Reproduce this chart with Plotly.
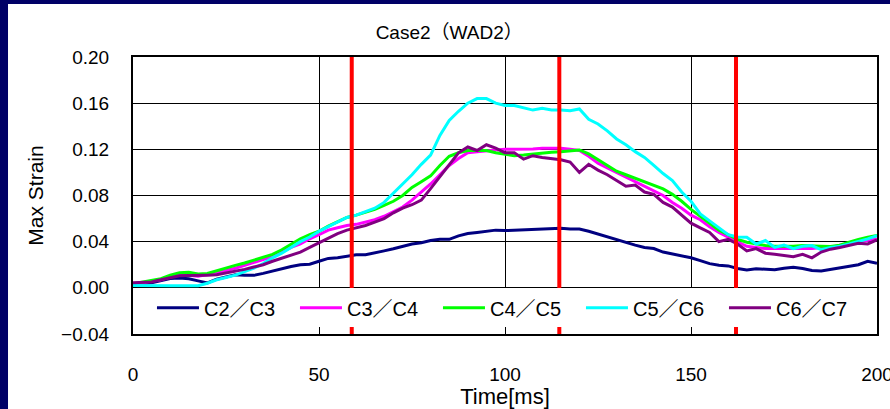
import plotly.graph_objects as go

time_ms = [0, 2.5, 5, 7.5, 10, 12.5, 15, 17.5, 20, 22.5, 25, 27.5, 30, 32.5, 35, 37.5,
           40, 42.5, 45, 47.5, 50, 52.5, 55, 57.5, 60, 62.5, 65, 67.5, 70, 72.5, 75, 77.5,
           80, 82.5, 85, 87.5, 90, 92.5, 95, 97.5, 100, 102.5, 105, 107.5, 110, 112.5,
           115, 117.5, 120, 122.5, 125, 127.5, 130, 132.5, 135, 137.5, 140, 142.5, 145,
           147.5, 150, 152.5, 155, 157.5, 160, 162.5, 165, 167.5, 170, 172.5, 175, 177.5,
           180, 182.5, 185, 187.5, 190, 192.5, 195, 197.5, 200]

c2_c3 = [0.0035, 0.0035, 0.0043, 0.006, 0.008, 0.0085, 0.0078, 0.006, 0.0043, 0.0075, 0.0095,
         0.0113, 0.011, 0.0108, 0.0125, 0.0145, 0.0168, 0.0185, 0.020, 0.0205, 0.023, 0.0255,
         0.026, 0.0275, 0.0286, 0.0286, 0.030, 0.032, 0.0338, 0.036, 0.038, 0.039, 0.041,
         0.042, 0.042, 0.045, 0.047, 0.048, 0.049, 0.050, 0.0496, 0.050, 0.050, 0.0505, 0.051,
         0.0515, 0.0516, 0.051, 0.051, 0.049, 0.0465, 0.044, 0.042, 0.039, 0.037, 0.035, 0.034,
         0.031, 0.0295, 0.028, 0.026, 0.0236, 0.021, 0.0195, 0.019, 0.0168, 0.0155, 0.0165,
         0.016, 0.0156, 0.017, 0.0178, 0.0168, 0.015, 0.0145, 0.016, 0.017, 0.0184, 0.020,
         0.023, 0.0213]
c3_c4 = [0.0035, 0.004, 0.006, 0.007, 0.0095, 0.011, 0.011, 0.010, 0.0115, 0.013, 0.015,
         0.017, 0.0195, 0.0215, 0.024, 0.027, 0.031, 0.035, 0.038, 0.0425, 0.046, 0.050,
         0.052, 0.054, 0.055, 0.0568, 0.059, 0.062, 0.066, 0.070, 0.076, 0.083, 0.090, 0.098,
         0.106, 0.112, 0.117, 0.118, 0.119, 0.1195, 0.120, 0.120, 0.120, 0.1203, 0.121, 0.121,
         0.121, 0.120, 0.119, 0.114, 0.108, 0.104, 0.100, 0.096, 0.092, 0.088, 0.084, 0.080,
         0.074, 0.069, 0.063, 0.059, 0.053, 0.048, 0.0438, 0.040, 0.036, 0.035, 0.034, 0.034,
         0.034, 0.034, 0.034, 0.034, 0.035, 0.035, 0.037, 0.038, 0.040, 0.041, 0.0424]
c4_c5 = [0.0035, 0.005, 0.0063, 0.008, 0.011, 0.013, 0.0135, 0.012, 0.0125, 0.015, 0.017,
         0.0195, 0.0215, 0.024, 0.026, 0.029, 0.033, 0.038, 0.0425, 0.046, 0.049, 0.0535,
         0.057, 0.061, 0.063, 0.0655, 0.068, 0.0715, 0.075, 0.080, 0.087, 0.092, 0.097, 0.106,
         0.114, 0.117, 0.119, 0.119, 0.119, 0.117, 0.116, 0.1145, 0.115, 0.116, 0.117, 0.1175,
         0.118, 0.119, 0.1195, 0.116, 0.111, 0.106, 0.101, 0.098, 0.095, 0.092, 0.089, 0.0857,
         0.081, 0.075, 0.068, 0.062, 0.056, 0.050, 0.046, 0.042, 0.0395, 0.038, 0.0366, 0.036,
         0.0358, 0.036, 0.0366, 0.0366, 0.036, 0.0358, 0.037, 0.0395, 0.042, 0.0438, 0.0453]
c5_c6 = [0.002, 0.0018, 0.0018, 0.0018, 0.0018, 0.0018, 0.0018, 0.0018, 0.004, 0.007, 0.009,
         0.011, 0.014, 0.017, 0.021, 0.026, 0.030, 0.035, 0.040, 0.044, 0.049, 0.053, 0.057,
         0.061, 0.063, 0.066, 0.069, 0.074, 0.082, 0.090, 0.098, 0.107, 0.115, 0.132, 0.145,
         0.153, 0.160, 0.164, 0.164, 0.160, 0.158, 0.158, 0.156, 0.154, 0.1555, 0.154, 0.154,
         0.1535, 0.155, 0.146, 0.142, 0.136, 0.129, 0.124, 0.118, 0.113, 0.106, 0.099, 0.093,
         0.083, 0.075, 0.064, 0.058, 0.052, 0.046, 0.044, 0.0438, 0.038, 0.041, 0.035, 0.037,
         0.034, 0.036, 0.0366, 0.033, 0.035, 0.036, 0.038, 0.040, 0.0424, 0.0453]
c6_c7 = [0.0043, 0.0045, 0.005, 0.007, 0.0085, 0.0105, 0.0106, 0.0106, 0.011, 0.0113, 0.0128,
         0.0145, 0.016, 0.018, 0.020, 0.023, 0.0255, 0.028, 0.031, 0.035, 0.039, 0.043, 0.047,
         0.050, 0.052, 0.054, 0.057, 0.060, 0.065, 0.069, 0.072, 0.076, 0.086, 0.096, 0.106,
         0.117, 0.122, 0.119, 0.124, 0.121, 0.117, 0.117, 0.1115, 0.1145, 0.113, 0.112, 0.111,
         0.109, 0.100, 0.107, 0.102, 0.098, 0.093, 0.088, 0.089, 0.083, 0.081, 0.074, 0.070,
         0.063, 0.056, 0.052, 0.048, 0.040, 0.042, 0.038, 0.032, 0.034, 0.030, 0.029, 0.028,
         0.027, 0.029, 0.026, 0.031, 0.0335, 0.035, 0.0366, 0.0386, 0.038, 0.0416]

series_names = ["C2／C3", "C3／C4", "C4／C5", "C5／C6", "C6／C7"]
series_colors = ["#000080", "#FF00FF", "#00FF00", "#00FFFF", "#800080"]
event_times = [58.8, 114.6, 162.1]

x_ticks = [0, 50, 100, 150, 200]
y_ticks = [-0.04, 0.00, 0.04, 0.08, 0.12, 0.16, 0.20]

FONT = "Liberation Sans, Arial, Noto Sans CJK JP, sans-serif"

fig = go.Figure()
for name, vals, col in zip(series_names, [c2_c3, c3_c4, c4_c5, c5_c6, c6_c7], series_colors):
    fig.add_trace(go.Scatter(x=time_ms, y=vals, name=name, mode="lines",
                             line=dict(color=col, width=3)))

# white panel on navy background
fig.add_shape(type="rect", xref="paper", yref="paper", x0=-0.168, x1=1.1, y0=-0.5, y1=1.191,
              fillcolor="white", line=dict(width=0), layer="below")

for t in event_times:
    fig.add_shape(type="line", xref="x", yref="paper", x0=t, x1=t, y0=0, y1=1,
                  line=dict(color="#FF0000", width=4), layer="above")

fig.update_layout(
    width=890, height=409,
    margin=dict(l=133, r=13, t=57, b=75, autoexpand=False),
    paper_bgcolor="#000066",
    plot_bgcolor="white",
    font=dict(family=FONT, size=19, color="black"),
    title=dict(text="Case2（WAD2）", x=0.425, xref="paper", xanchor="center",
               y=1 - 32 / 409, yref="container", yanchor="middle",
               font=dict(size=19, family=FONT, color="black")),
    xaxis=dict(range=[0, 200], tickvals=x_ticks, ticktext=[str(v) for v in x_ticks],
               showgrid=True, gridcolor="black", gridwidth=1,
               showline=True, linecolor="black", linewidth=2, mirror=True,
               zeroline=False, ticks="", ticklabelstandoff=22, ticklabeloverflow="allow",
               tickfont=dict(size=19),
               title=dict(text="Time[ms]", standoff=4, font=dict(size=22))),
    yaxis=dict(range=[-0.04, 0.20], tickvals=y_ticks, tickformat=".2f",
               showgrid=True, gridcolor="black", gridwidth=1,
               showline=True, linecolor="black", linewidth=2, mirror=True,
               zeroline=True, zerolinecolor="black", zerolinewidth=1,
               ticks="", ticklabelstandoff=18,
               tickfont=dict(size=19),
               title=dict(text="Max Strain", standoff=12, font=dict(size=21))),
    legend=dict(orientation="h", x=0.0255, xanchor="left", y=0.165, yanchor="top",
                bgcolor="white", borderwidth=0, font=dict(size=20),
                entrywidth=86, itemwidth=42, tracegroupgap=0),
    showlegend=True,
)

fig.write_html("out.html", config={"displayModeBar": False},
               post_script="document.body.style.margin='0';document.body.style.padding='0';"
                           "document.body.style.background='#000066';document.body.style.overflow='hidden';")
